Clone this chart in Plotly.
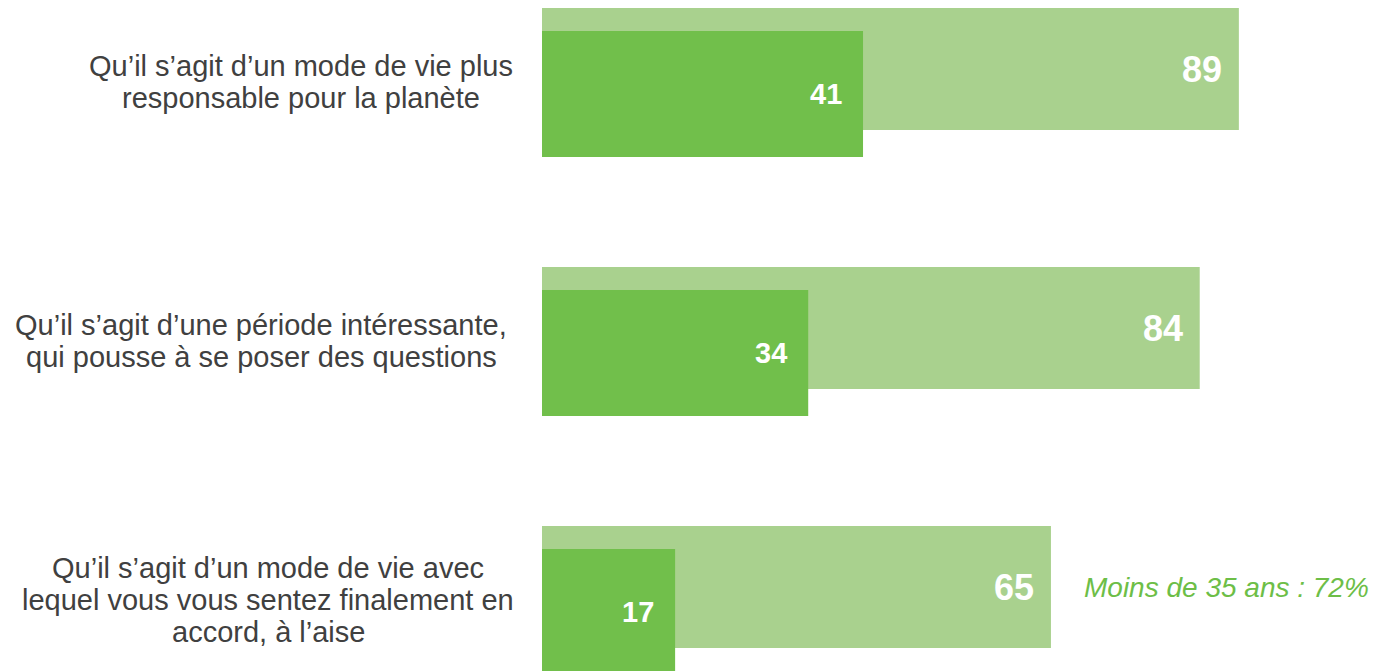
import plotly.graph_objects as go

categories = [
    ["Qu’il s’agit d’un mode de vie plus", "responsable pour la planète"],
    ["Qu’il s’agit d’une période intéressante,", "qui pousse à se poser des questions"],
    ["Qu’il s’agit d’un mode de vie avec", "lequel vous vous sentez finalement en", "accord, à l’aise"],
]
total_values = [89, 84, 65]
sub_values = [41, 34, 17]
note_text = "Moins de 35 ans : 72%"

LIGHT = "#A9D18E"
DARK = "#71BF4B"
TEXT = "#404040"
FONT = "Liberation Sans, Arial, sans-serif"

# geometry (in category units)
L_OFF, L_W = -0.2857, 0.471
D_OFF, D_W = -0.197, 0.4865

W, H = 1380, 671
ML = 542
PX_PER_UNIT = 7.83
x_max = (W - ML) / PX_PER_UNIT
pos = list(range(len(categories)))

fig = go.Figure()
fig.add_trace(go.Bar(
    y=pos, x=total_values, orientation="h",
    offset=L_OFF, width=L_W, marker=dict(color=LIGHT, line=dict(width=0)),
    hoverinfo="skip", showlegend=False,
))
fig.add_trace(go.Bar(
    y=pos, x=sub_values, orientation="h",
    offset=D_OFF, width=D_W, marker=dict(color=DARK, line=dict(width=0)),
    hoverinfo="skip", showlegend=False,
))

annotations = []
label_centers_px = [301, 261, 268]
LINE_H = 32
for i, lines in enumerate(categories):
    n = len(lines)
    for j, line in enumerate(lines):
        annotations.append(dict(
            xref="paper", yref="y", x=(label_centers_px[i] - ML) / (W - ML), y=i,
            yshift=-(j - (n - 1) / 2) * LINE_H,
            text=line, showarrow=False, xanchor="center", yanchor="middle", align="center",
            font=dict(family=FONT, size=29, color=TEXT),
        ))
for i, v in enumerate(total_values):
    annotations.append(dict(
        xref="x", yref="y", x=v, y=i + L_OFF + L_W / 2, text=f"<b>{v}</b>",
        showarrow=False, xanchor="right", yanchor="middle", xshift=-15,
        font=dict(family=FONT, size=36, color="white"),
    ))
for i, v in enumerate(sub_values):
    annotations.append(dict(
        xref="x", yref="y", x=v, y=i + D_OFF + D_W / 2, text=f"<b>{v}</b>",
        showarrow=False, xanchor="right", yanchor="middle", xshift=-19,
        font=dict(family=FONT, size=29, color="white"),
    ))
annotations.append(dict(
    xref="paper", yref="y", x=(1371 - ML) / (W - ML), y=2 + L_OFF + L_W / 2,
    text=f"<i>{note_text}</i>", showarrow=False, xanchor="right", yanchor="middle",
    font=dict(family=FONT, size=28, color="#6DBE47"),
))

fig.update_layout(
    width=W, height=H,
    margin=dict(l=ML, r=0, t=0, b=0),
    paper_bgcolor="white", plot_bgcolor="white",
    barmode="overlay",
    annotations=annotations,
    xaxis=dict(range=[0, x_max], visible=False, fixedrange=True),
    yaxis=dict(range=[(H - 82) / 259, -82 / 259], visible=False, fixedrange=True),
)

fig.write_html(
    "out.html",
    config={"displayModeBar": False},
    post_script="document.body.style.margin='0';document.body.style.overflow='hidden';",
)
